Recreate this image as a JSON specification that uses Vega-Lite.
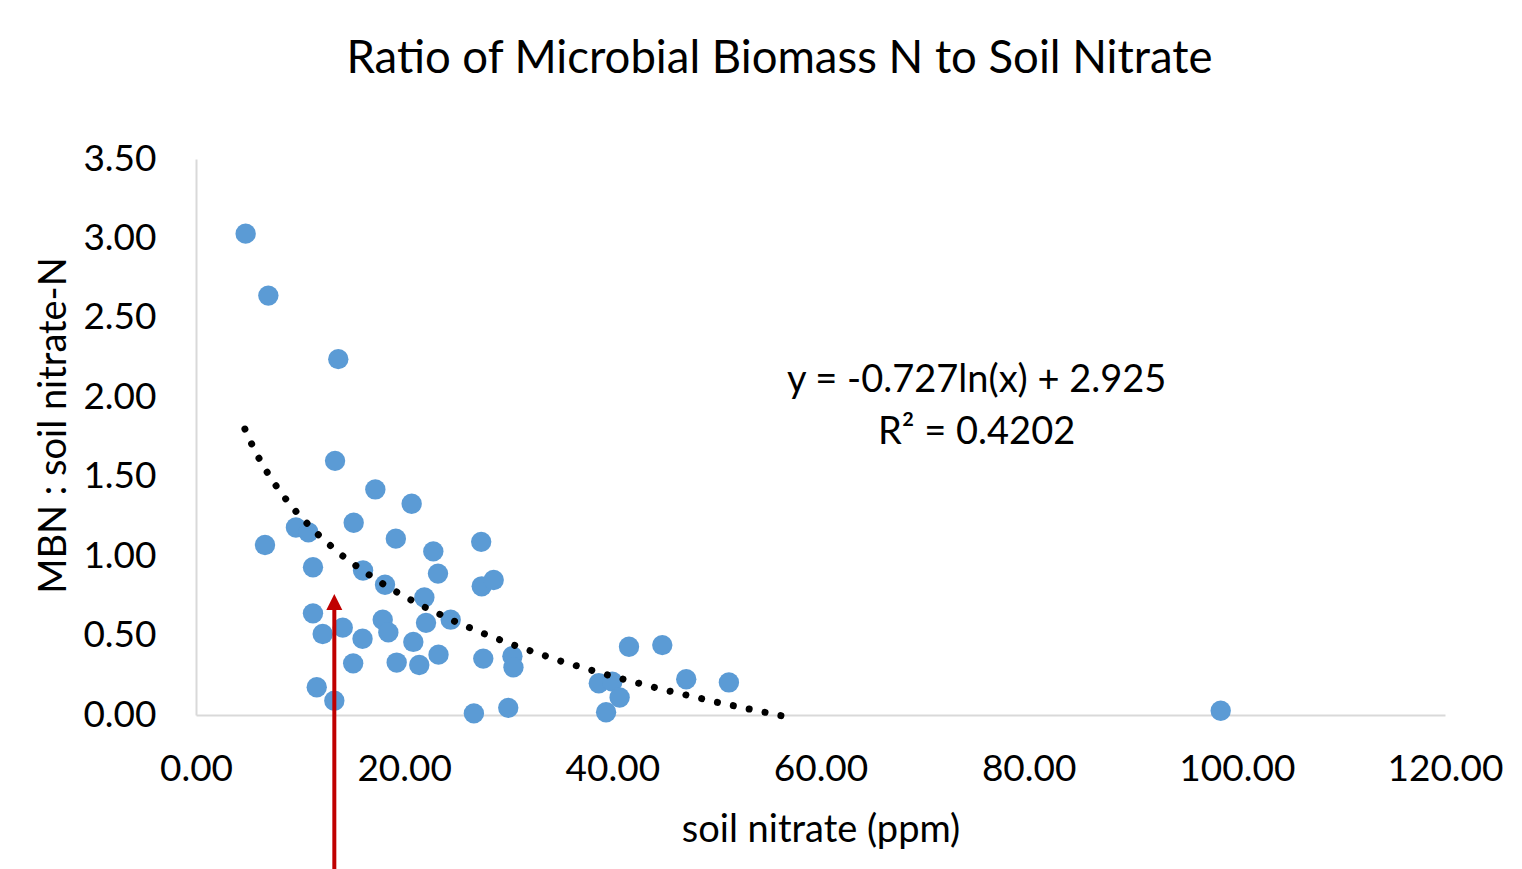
{
  "$schema": "https://vega.github.io/schema/vega-lite/v6.json",
  "width": 1249,
  "height": 556,
  "autosize": {"type": "none"},
  "padding": {"left": 196, "top": 159, "right": 77, "bottom": 154},
  "background": "white",
  "config": {
    "view": {"stroke": null},
    "font": "Lato",
    "axis": {
      "grid": false,
      "ticks": false,
      "labelFlush": false,
      "labelOverlap": false,
      "domainColor": "#D9D9D9",
      "domainWidth": 2,
      "labelFont": "Lato",
      "labelFontSize": 37,
      "labelColor": "#000000",
      "titleFont": "Lato",
      "titleFontSize": 38,
      "titleFontWeight": "normal",
      "titleColor": "#000000"
    }
  },
  "title": {
    "text": "Ratio of Microbial Biomass N to Soil Nitrate",
    "font": "Lato",
    "fontSize": 45.5,
    "fontWeight": "normal",
    "color": "#000000",
    "anchor": "middle",
    "dx": -41,
    "offset": 58
  },
  "datasets": {
    "points": [
      {"nitrate": 4.77, "ratio": 3.03},
      {"nitrate": 6.95, "ratio": 2.64},
      {"nitrate": 13.67, "ratio": 2.24},
      {"nitrate": 13.36, "ratio": 1.60},
      {"nitrate": 17.23, "ratio": 1.42},
      {"nitrate": 20.72, "ratio": 1.33},
      {"nitrate": 15.15, "ratio": 1.21},
      {"nitrate": 9.6, "ratio": 1.18},
      {"nitrate": 10.8, "ratio": 1.15},
      {"nitrate": 6.63, "ratio": 1.07},
      {"nitrate": 19.2, "ratio": 1.11},
      {"nitrate": 22.8, "ratio": 1.03},
      {"nitrate": 27.4, "ratio": 1.09},
      {"nitrate": 11.24, "ratio": 0.93},
      {"nitrate": 16.05, "ratio": 0.91},
      {"nitrate": 18.16, "ratio": 0.82},
      {"nitrate": 23.25, "ratio": 0.89},
      {"nitrate": 27.45, "ratio": 0.81},
      {"nitrate": 28.6, "ratio": 0.85},
      {"nitrate": 21.94, "ratio": 0.74},
      {"nitrate": 11.24, "ratio": 0.64},
      {"nitrate": 17.94, "ratio": 0.60},
      {"nitrate": 24.47, "ratio": 0.60},
      {"nitrate": 12.17, "ratio": 0.51},
      {"nitrate": 14.1, "ratio": 0.55},
      {"nitrate": 18.48, "ratio": 0.52},
      {"nitrate": 22.1, "ratio": 0.58},
      {"nitrate": 16.0, "ratio": 0.48},
      {"nitrate": 20.88, "ratio": 0.46},
      {"nitrate": 15.1, "ratio": 0.325},
      {"nitrate": 19.28, "ratio": 0.33},
      {"nitrate": 21.45, "ratio": 0.315},
      {"nitrate": 23.3, "ratio": 0.38},
      {"nitrate": 27.6, "ratio": 0.355},
      {"nitrate": 30.4, "ratio": 0.37},
      {"nitrate": 30.5, "ratio": 0.30},
      {"nitrate": 11.6, "ratio": 0.175},
      {"nitrate": 13.29, "ratio": 0.09},
      {"nitrate": 26.7, "ratio": 0.01},
      {"nitrate": 30.0, "ratio": 0.045},
      {"nitrate": 41.6, "ratio": 0.43},
      {"nitrate": 44.8, "ratio": 0.44},
      {"nitrate": 47.1, "ratio": 0.225},
      {"nitrate": 51.2, "ratio": 0.205},
      {"nitrate": 38.7, "ratio": 0.20},
      {"nitrate": 40.0, "ratio": 0.21},
      {"nitrate": 40.7, "ratio": 0.11},
      {"nitrate": 39.4, "ratio": 0.017},
      {"nitrate": 98.45, "ratio": 0.027}
    ],
    "trend": [
      {"nitrate": 4.7, "ratio": 1.800},
      {"nitrate": 5.3, "ratio": 1.713},
      {"nitrate": 6, "ratio": 1.622},
      {"nitrate": 7, "ratio": 1.510},
      {"nitrate": 8, "ratio": 1.413},
      {"nitrate": 9, "ratio": 1.328},
      {"nitrate": 10, "ratio": 1.251},
      {"nitrate": 12, "ratio": 1.118},
      {"nitrate": 14, "ratio": 1.006},
      {"nitrate": 16, "ratio": 0.909},
      {"nitrate": 18, "ratio": 0.824},
      {"nitrate": 20, "ratio": 0.747},
      {"nitrate": 22, "ratio": 0.678},
      {"nitrate": 25, "ratio": 0.585},
      {"nitrate": 28, "ratio": 0.503},
      {"nitrate": 31, "ratio": 0.429},
      {"nitrate": 35, "ratio": 0.340},
      {"nitrate": 40, "ratio": 0.243},
      {"nitrate": 45, "ratio": 0.158},
      {"nitrate": 50, "ratio": 0.081},
      {"nitrate": 55.9, "ratio": 0.0},
      {"nitrate": 56.7, "ratio": -0.01}
    ],
    "arrow": [
      {"nitrate": 13.29, "start": -0.97, "end": 0.68, "tip": 0.711}
    ],
    "notes": [
      {"nitrate": 75.0, "ratio": 2.10, "label": "y = -0.727ln(x) + 2.925"},
      {"nitrate": 75.0, "ratio": 1.775, "label": "R² = 0.4202"}
    ]
  },
  "layer": [
    {
      "data": {"name": "points"},
      "mark": {"type": "point", "filled": true, "shape": "circle", "size": 415, "color": "#5B9BD5", "opacity": 1},
      "encoding": {
        "x": {
          "field": "nitrate", "type": "quantitative",
          "scale": {"domain": [0, 120], "nice": false, "zero": false},
          "axis": {"title": "soil nitrate (ppm)", "values": [0, 20, 40, 60, 80, 100, 120], "format": ".2f", "labelPadding": 36, "titlePadding": 24}
        },
        "y": {
          "field": "ratio", "type": "quantitative",
          "scale": {"domain": [0, 3.5], "nice": false, "zero": false},
          "axis": {"title": "MBN : soil nitrate-N", "values": [0, 0.5, 1, 1.5, 2, 2.5, 3, 3.5], "format": ".2f", "labelPadding": 40, "titlePadding": 9, "titleY": 266}
        }
      }
    },
    {
      "data": {"name": "trend"},
      "mark": {"type": "line", "color": "#000000", "strokeWidth": 7, "strokeCap": "round", "strokeDash": [0.01, 16.2]},
      "encoding": {
        "x": {"field": "nitrate", "type": "quantitative"},
        "y": {"field": "ratio", "type": "quantitative"}
      }
    },
    {
      "data": {"name": "arrow"},
      "mark": {"type": "rule", "color": "#C00000", "strokeWidth": 4, "clip": false},
      "encoding": {
        "x": {"field": "nitrate", "type": "quantitative"},
        "y": {"field": "start", "type": "quantitative"},
        "y2": {"field": "end"}
      }
    },
    {
      "data": {"name": "arrow"},
      "mark": {"type": "point", "filled": true, "shape": "M -1 1 L 0 -1 L 1 1 Z", "size": 256, "color": "#C00000", "opacity": 1},
      "encoding": {
        "x": {"field": "nitrate", "type": "quantitative"},
        "y": {"field": "tip", "type": "quantitative"}
      }
    },
    {
      "data": {"name": "notes"},
      "mark": {"type": "text", "font": "Lato", "fontSize": 38, "color": "#000000", "align": "center", "baseline": "middle"},
      "encoding": {
        "x": {"field": "nitrate", "type": "quantitative"},
        "y": {"field": "ratio", "type": "quantitative"},
        "text": {"field": "label"}
      }
    }
  ]
}
